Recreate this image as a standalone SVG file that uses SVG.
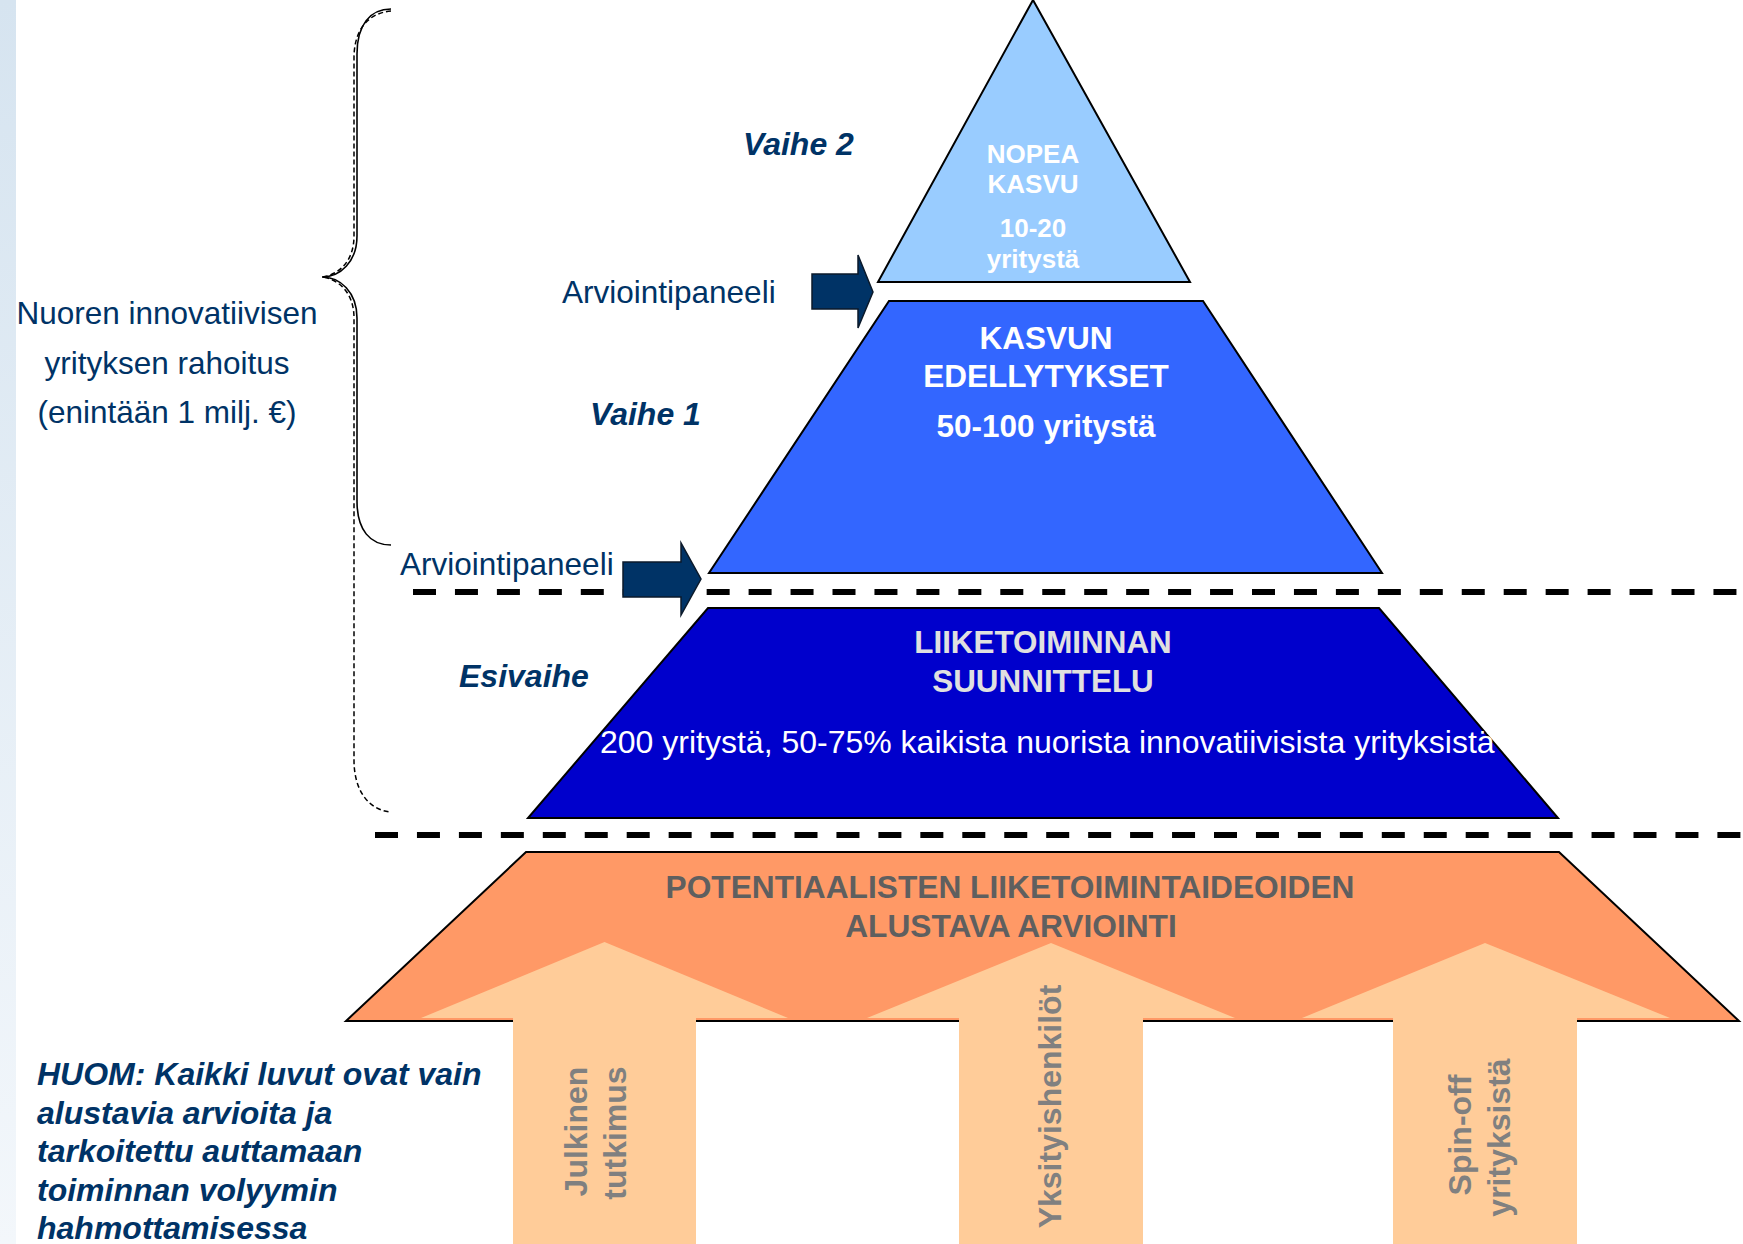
<svg xmlns="http://www.w3.org/2000/svg" width="1743" height="1244" viewBox="0 0 1743 1244">
  <defs>
    <linearGradient id="stripe" x1="0" y1="0" x2="0" y2="1">
      <stop offset="0" stop-color="#d6e4f0"/>
      <stop offset="1" stop-color="#f3f7fb"/>
    </linearGradient>
    <style>
      .navy { fill: #003366; font-family: "Liberation Sans", Arial, sans-serif; }
      .lbl { font-size: 31.5px; }
      .phase { font-size: 32px; font-weight: bold; font-style: italic; }
      .wb { fill: #ffffff; font-family: "Liberation Sans", Arial, sans-serif; font-weight: bold; text-anchor: middle; }
      .gray { fill: #808080; font-family: "Liberation Sans", Arial, sans-serif; font-weight: bold; font-size: 32px; text-anchor: middle; }
      .shape { stroke: #000000; stroke-width: 2; stroke-linejoin: miter; }
      .src { fill: #ffcc99; }
      .dash { stroke: #000000; stroke-width: 6; stroke-dasharray: 23 18.95; fill: none; }
      .parrow { fill: #003366; stroke: #0b1a2b; stroke-width: 1.5; }
    </style>
  </defs>

  <rect x="0" y="0" width="1743" height="1244" fill="#ffffff"/>
  <rect x="0" y="0" width="16" height="1244" fill="url(#stripe)"/>

  <!-- braces -->
  <g id="brace" fill="none" stroke="#000000">
    <path d="M391,9 C370,9 357,25 357,54 L357,236 C357,262 340,277 322,277 C340,277 357,292 357,318 L357,501 C357,530 370,545 391,545" stroke-width="1.6"/>
    <path d="M391,11 C368,13 354,30 354,58 L354,236 C354,262 338,275 322,277 C338,279 354,292 354,318 L354,760 C354,790 368,810 391,812" stroke-width="1.5" stroke-dasharray="5 3"/>
  </g>

  <!-- dashed separators -->
  <g id="separators">
    <line class="dash" x1="413" y1="592" x2="1743" y2="592"/>
    <line class="dash" x1="375" y1="835" x2="1743" y2="835"/>
  </g>

  <!-- left labels -->
  <g id="funding-label" class="navy lbl" text-anchor="middle">
    <text x="167" y="324">Nuoren innovatiivisen</text>
    <text x="167" y="374">yrityksen rahoitus</text>
    <text x="167" y="423">(enintään 1 milj. €)</text>
  </g>
  <g id="phase-labels" class="navy phase">
    <text x="743" y="155">Vaihe 2</text>
    <text x="590" y="425">Vaihe 1</text>
    <text x="459" y="687">Esivaihe</text>
  </g>
  <g id="panel-labels" class="navy lbl">
    <text x="562" y="303">Arviointipaneeli</text>
    <text x="400" y="575">Arviointipaneeli</text>
  </g>
  <g id="note" class="navy phase">
    <text x="37" y="1085">HUOM: Kaikki luvut ovat vain</text>
    <text x="37" y="1123.5">alustavia arvioita ja</text>
    <text x="37" y="1162">tarkoitettu auttamaan</text>
    <text x="37" y="1200.5">toiminnan volyymin</text>
    <text x="37" y="1239">hahmottamisessa</text>
  </g>

  <!-- level 4: top triangle -->
  <g id="nopea-kasvu">
    <polygon class="shape" points="1033,0 1190,282 878,282" fill="#99ccff"/>
    <g class="wb" font-size="26">
      <text x="1033" y="163">NOPEA</text>
      <text x="1033" y="193">KASVU</text>
      <text x="1033" y="237">10-20</text>
      <text x="1033" y="268">yritystä</text>
    </g>
  </g>

  <!-- level 3 -->
  <g id="kasvun-edellytykset">
    <polygon class="shape" points="889,301 1203,301 1382,573 709,573" fill="#3366ff"/>
    <g class="wb" font-size="31.5">
      <text x="1046" y="349">KASVUN</text>
      <text x="1046" y="387">EDELLYTYKSET</text>
      <text x="1046" y="437">50-100 yritystä</text>
    </g>
  </g>

  <!-- level 2 -->
  <g id="liiketoiminnan-suunnittelu">
    <polygon class="shape" points="708,608 1379,608 1558,818 528,818" fill="#0000cc"/>
    <g class="wb" font-size="31.4" fill="#e0e0e0" style="fill:#e0e0e0">
      <text x="1043" y="653">LIIKETOIMINNAN</text>
      <text x="1043" y="692">SUUNNITTELU</text>
    </g>
    <text x="600" y="753" fill="#ffffff" font-family="'Liberation Sans', Arial, sans-serif" font-size="32">200 yritystä, 50-75% kaikista nuorista innovatiivisista yrityksistä</text>
  </g>

  <!-- level 1 -->
  <g id="alustava-arviointi">
    <polygon class="shape" points="526,852 1559,852 1739,1021 346,1021" fill="#ff9966"/>
    <polygon class="src" points="604.5,942 788,1018 696,1018 696,1244 513,1244 513,1018 421,1018"/>
    <polygon class="src" points="1051,943 1235,1018 1143,1018 1143,1244 959,1244 959,1018 867,1018"/>
    <polygon class="src" points="1485,943 1670,1018 1577,1018 1577,1244 1393,1244 1393,1018 1302,1018"/>
    <g font-family="'Liberation Sans', Arial, sans-serif" font-weight="bold" font-size="31.7" fill="#5f5f5f" text-anchor="middle">
      <text x="1010" y="898">POTENTIAALISTEN LIIKETOIMINTAIDEOIDEN</text>
      <text x="1011" y="937">ALUSTAVA ARVIOINTI</text>
    </g>
  </g>

  <g id="source-julkinen" class="gray">
    <text transform="translate(587,1131.5) rotate(-90)">Julkinen</text>
    <text transform="translate(626,1133) rotate(-90)">tutkimus</text>
  </g>
  <g id="source-yksityis" class="gray">
    <text transform="translate(1061,1106.5) rotate(-90)">Yksityishenkilöt</text>
  </g>
  <g id="source-spinoff" class="gray">
    <text transform="translate(1471,1135) rotate(-90)">Spin-off</text>
    <text transform="translate(1510,1137.5) rotate(-90)">yrityksistä</text>
  </g>

  <!-- connectors: panel arrows -->
  <g id="connectors">
    <polygon class="parrow" points="812,274 858,274 858,255 873,292 858,328 858,309 812,309"/>
    <polygon class="parrow" points="623,562 681,562 681,543 701,579 681,615 681,597 623,597"/>
  </g>
</svg>
